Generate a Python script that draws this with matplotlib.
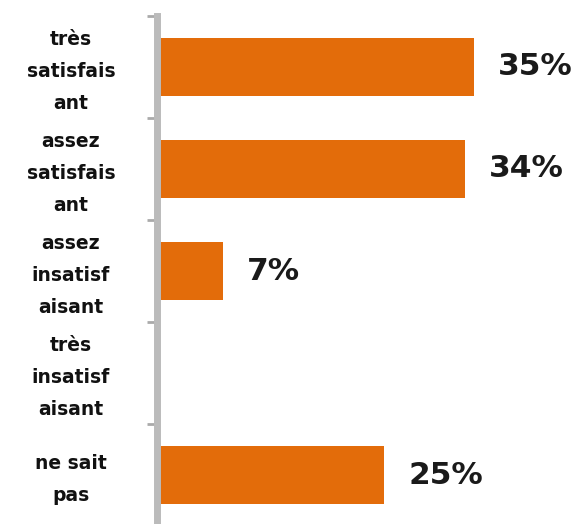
import matplotlib
matplotlib.use("Agg")
import matplotlib.pyplot as plt
import matplotlib.transforms as mtransforms
import numpy as np

categories = ["très\nsatisfais\nant", "assez\nsatisfais\nant", "assez\ninsatisf\naisant", "très\ninsatisf\naisant", "ne sait\npas"]
values = [35, 34, 7, 0, 25]
labels = ["35%", "34%", "7%", "", "25%"]

fig = plt.figure(figsize=(5.84, 5.24), dpi=100)
ax = fig.add_axes([157/584, -2/524, 1 - 157/584, 510/524])

y = np.arange(len(categories))
ax.barh(y, values, height=0.56, color="#E36C0A", left=0.35)
for yi, v, lab in zip(y, values, labels):
    if lab:
        ax.text(v + 0.35 + 2.7, yi, lab, va="center", ha="left", fontsize=22.5,
                fontweight="bold", color="#1a1a1a")

ax.set_ylim(len(categories) - 0.5, -0.5)
ax.set_xlim(0, 47.6)
ax.set_yticks(y)
ax.set_yticklabels(categories, ha="center", fontsize=13.5, fontweight="bold",
                   linespacing=1.85, color="#111111")
ax.tick_params(axis="y", which="major", length=0, pad=62)
offset = mtransforms.ScaledTranslation(0, 4/100, fig.dpi_scale_trans)
for t in ax.get_yticklabels():
    t.set_transform(t.get_transform() + offset)
ax.set_yticks(np.arange(len(categories) + 1) - 0.5, minor=True)
ax.tick_params(axis="y", which="minor", length=7, width=2, color="#aaaaaa", direction="out")
ax.set_xticks([])
for s in ["top", "right", "bottom"]:
    ax.spines[s].set_visible(False)
ax.spines["left"].set_color("#bbbbbb")
ax.spines["left"].set_linewidth(5)

fig.savefig("out.png", dpi=100)
